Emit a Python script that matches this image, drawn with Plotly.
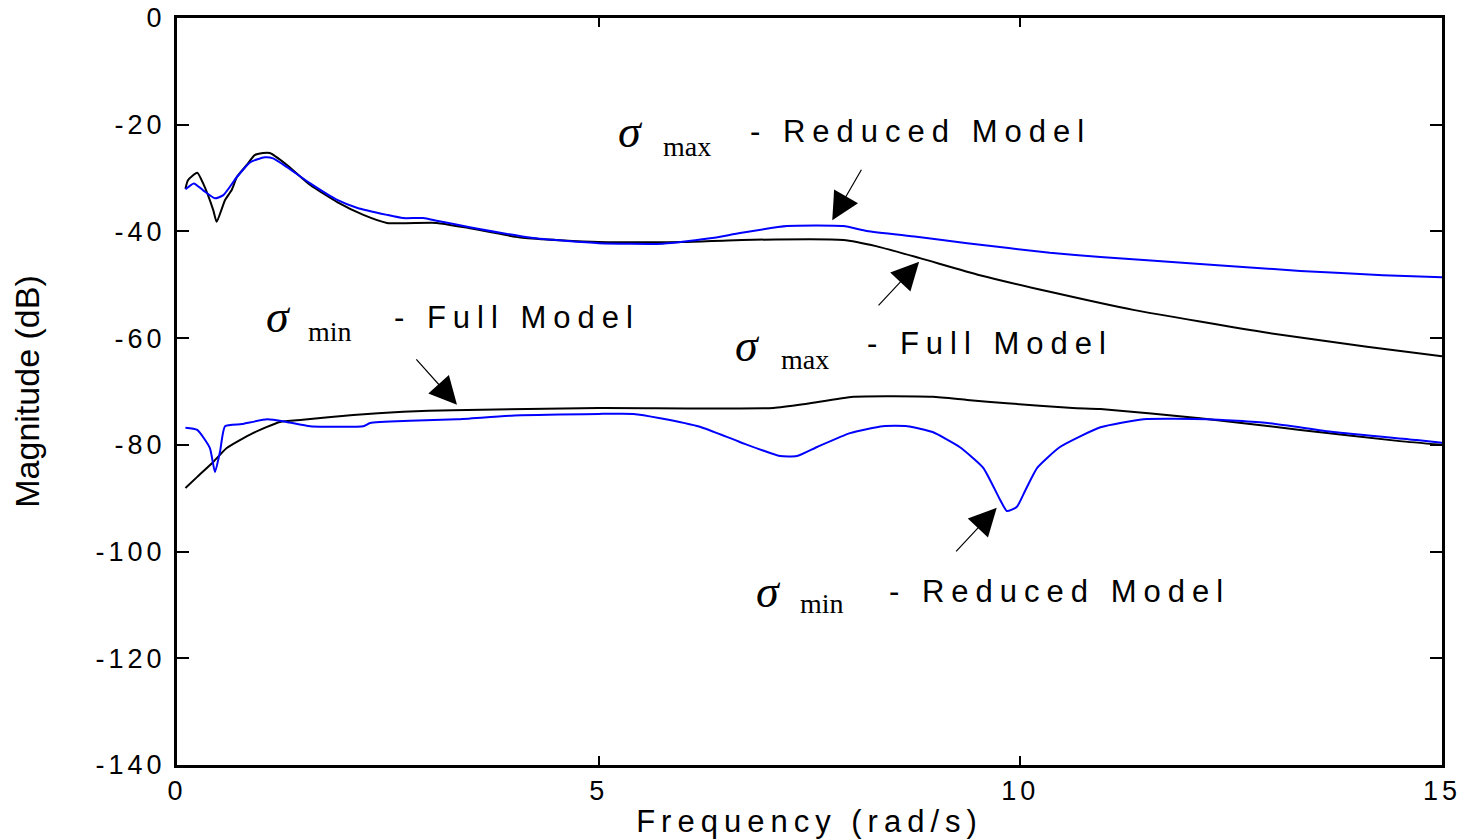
import plotly.graph_objects as go

# ---------------- data ----------------
freq_max_full = [0.1, 0.13, 0.24, 0.31, 0.43, 0.47, 0.57, 0.65, 0.71, 0.83, 0.92, 1.02, 1.10, 1.30, 1.58, 1.90,
                 2.21, 2.49, 3.08, 3.47, 4.1, 5.0, 6.0, 6.7, 7.9, 8.3, 8.81, 9.52, 10.35, 11.34, 12.93, 14.11, 15.0]
mag_max_full = [-32.0, -30.4, -29.0, -31.0, -36.0, -38.2, -34.1, -32.2, -29.8, -27.5, -25.7, -25.3, -25.3, -27.5,
                -31.3, -34.5, -36.9, -38.4, -38.4, -39.4, -41.2, -42.0, -42.0, -41.6, -41.6, -42.8, -45.0, -48.2,
                -51.3, -54.7, -59.0, -61.6, -63.4]

freq_max_red = [0.1, 0.2, 0.31, 0.45, 0.55, 0.71, 0.87, 1.04, 1.14, 1.30, 1.58, 1.90, 2.14, 2.49, 2.68, 2.92,
                3.08, 3.47, 4.2, 5.0, 5.76, 6.32, 6.68, 7.23, 7.9, 8.18, 8.77, 9.37, 10.35, 10.95, 12.13, 13.32,
                14.30, 15.0]
mag_max_red = [-32.1, -31.0, -32.3, -33.8, -33.2, -29.8, -27.0, -26.1, -26.3, -27.9, -31.0, -34.1, -35.6, -36.9,
               -37.5, -37.5, -38.0, -39.2, -41.2, -42.2, -42.3, -41.3, -40.3, -39.0, -39.0, -39.9, -41.0, -42.2,
               -44.0, -44.8, -46.1, -47.4, -48.2, -48.6]

freq_min_full = [0.1, 0.24, 0.43, 0.59, 0.90, 1.22, 1.49, 2.09, 2.68, 3.27, 5.0, 7.07, 7.47, 8.02, 8.96, 9.37,
                 9.84, 10.62, 10.95, 12.13, 13.32, 14.50, 15.0]
mag_min_full = [-88.1, -86.0, -83.2, -80.6, -77.8, -75.7, -75.3, -74.4, -73.8, -73.5, -73.1, -73.1, -72.3, -71.0,
                -71.0, -71.6, -72.2, -73.1, -73.3, -75.0, -77.2, -79.3, -80.0]

freq_min_red = [0.1, 0.24, 0.39, 0.45, 0.51, 0.57, 0.77, 1.07, 1.30, 1.58, 2.21, 2.29, 2.76, 3.32, 4.0, 5.0, 5.41,
                5.73, 6.20, 6.68, 7.15, 7.35, 7.59, 7.98, 8.37, 8.66, 8.96, 9.28, 9.56, 9.76, 9.84, 9.96, 10.06,
                10.20, 10.47, 10.95, 11.46, 12.21, 12.93, 13.71, 14.70, 15.0]
mag_min_red = [-76.8, -77.2, -80.6, -85.1, -81.3, -76.5, -76.1, -75.2, -75.7, -76.5, -76.5, -75.9, -75.5, -75.2,
               -74.5, -74.2, -74.2, -75.0, -76.6, -79.5, -82.1, -82.1, -80.4, -77.8, -76.5, -76.5, -77.6, -80.4,
               -84.3, -90.3, -92.4, -91.6, -88.5, -84.3, -80.4, -76.7, -75.2, -75.2, -75.9, -77.6, -79.1, -79.6]

x_tick_vals = [0, 5, 10, 15]
x_tick_labels = ["0", "5", "10", "15"]
y_tick_vals = [0, -20, -40, -60, -80, -100, -120, -140]
y_tick_labels = ["0", "-20", "-40", "-60", "-80", "-100", "-120", "-140"]

x_title = "Frequency (rad/s)"
y_title = "Magnitude (dB)"

# annotation labels: (sigma subscript, label, sigma pos, subscript pos, label pos, arrow tip, arrow tail offset px)
labels = [
    ("max", "- Reduced Model", (5.38, -21.3), (6.05, -24.0), (6.77, -21.3), (7.77, -37.9), (30, -52)),
    ("min", "- Full Model", (1.20, -55.9), (1.81, -58.7), (2.55, -56.2), (3.32, -72.5), (-42, -47)),
    ("max", "- Full Model", (6.77, -61.3), (7.45, -64.0), (8.16, -61.0), (8.80, -45.7), (-42, 45)),
    ("min", "- Reduced Model", (7.01, -107.4), (7.65, -109.7), (8.42, -107.4), (9.72, -91.8), (-42, 45)),
]

# ---------------- figure ----------------
SANS = "Liberation Sans, Arial, sans-serif"
SERIF = "Liberation Serif, Times New Roman, serif"


def spaced(t, px):
    return '<span style="letter-spacing:%spx">%s</span>' % (px, t)


fig = go.Figure()
fig.add_trace(go.Scatter(x=freq_max_full, y=mag_max_full, mode="lines",
                         line=dict(color="#000000", width=2, shape="spline", smoothing=0.5), name="σmax Full"))
fig.add_trace(go.Scatter(x=freq_max_red, y=mag_max_red, mode="lines",
                         line=dict(color="#0000ff", width=2, shape="spline", smoothing=0.5), name="σmax Reduced"))
fig.add_trace(go.Scatter(x=freq_min_full, y=mag_min_full, mode="lines",
                         line=dict(color="#000000", width=2, shape="spline", smoothing=0.5), name="σmin Full"))
fig.add_trace(go.Scatter(x=freq_min_red, y=mag_min_red, mode="lines",
                         line=dict(color="#0000ff", width=2, shape="spline", smoothing=0.5), name="σmin Reduced"))

ann = []
for sub, lab, sp, subp, lp, tip, tail in labels:
    ann.append(dict(x=sp[0], y=sp[1], xref="x", yref="y", text="<i>σ</i>", showarrow=False,
                    font=dict(family=SERIF, size=46, color="black"), xanchor="center", yanchor="middle"))
    ann.append(dict(x=subp[0], y=subp[1], xref="x", yref="y", text=sub, showarrow=False,
                    font=dict(family=SERIF, size=28, color="black"), xanchor="center", yanchor="middle"))
    ann.append(dict(x=lp[0], y=lp[1], xref="x", yref="y", text=spaced(lab, 7), showarrow=False,
                    font=dict(family=SANS, size=31, color="black"), xanchor="left", yanchor="middle"))
    ann.append(dict(x=tip[0], y=tip[1], xref="x", yref="y", text="", showarrow=True,
                    ax=tail[0], ay=tail[1], arrowhead=2, arrowsize=4.6, arrowwidth=1.2,
                    arrowcolor="black", standoff=0))

fig.update_layout(
    width=1466, height=839,
    margin=dict(l=177, r=24, t=18, b=74, autoexpand=False),
    paper_bgcolor="white", plot_bgcolor="white",
    showlegend=False,
    annotations=ann,
    xaxis=dict(range=[0, 15], tickvals=x_tick_vals, ticktext=[spaced(t, 4) for t in x_tick_labels],
               ticks="inside", ticklen=9, tickwidth=2, tickcolor="black",
               showline=True, linewidth=3, linecolor="black", mirror="ticks",
               showgrid=False, zeroline=False, automargin=False,
               tickfont=dict(family=SANS, size=27, color="black"),
               title=dict(text=spaced(x_title, 6), font=dict(family=SANS, size=31, color="black"), standoff=6)),
    yaxis=dict(range=[-140, 0], tickvals=y_tick_vals, ticktext=[spaced(t, 4) for t in y_tick_labels],
               ticks="inside", ticklen=12, tickwidth=2, tickcolor="black",
               showline=True, linewidth=3, linecolor="black", mirror="ticks",
               showgrid=False, zeroline=False, automargin=False, ticklabelstandoff=3,
               tickfont=dict(family=SANS, size=27, color="black"),
               title=dict(text=y_title, font=dict(family=SANS, size=34, color="black"), standoff=46)),
)

fig.write_html("out.html")
